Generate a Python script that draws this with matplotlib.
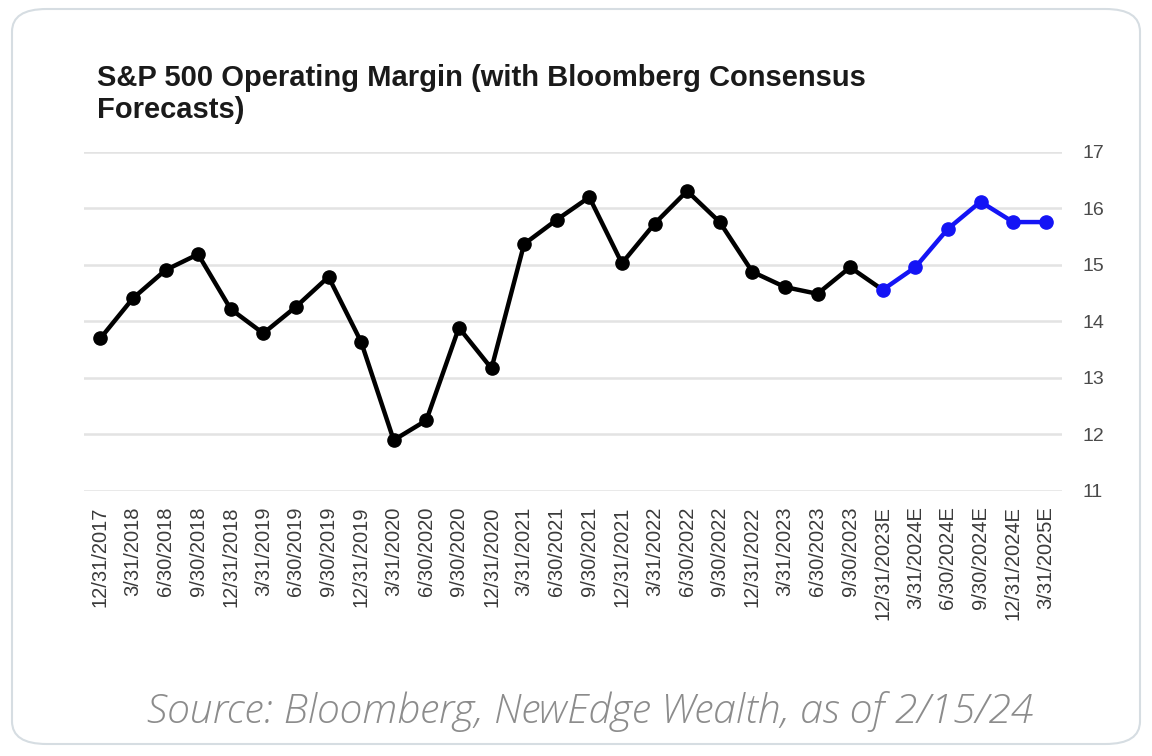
import matplotlib
matplotlib.use("Agg")
import matplotlib.pyplot as plt
from matplotlib.patches import FancyBboxPatch

dates = ["12/31/2017", "3/31/2018", "6/30/2018", "9/30/2018", "12/31/2018",
         "3/31/2019", "6/30/2019", "9/30/2019", "12/31/2019", "3/31/2020",
         "6/30/2020", "9/30/2020", "12/31/2020", "3/31/2021", "6/30/2021",
         "9/30/2021", "12/31/2021", "3/31/2022", "6/30/2022", "9/30/2022",
         "12/31/2022", "3/31/2023", "6/30/2023", "9/30/2023", "12/31/2023E",
         "3/31/2024E", "6/30/2024E", "9/30/2024E", "12/31/2024E", "3/31/2025E"]
margin = [13.70, 14.41, 14.91, 15.19, 14.22, 13.79, 14.26, 14.79, 13.64, 11.90,
          12.25, 13.89, 13.17, 15.37, 15.80, 16.20, 15.03, 15.73, 16.31, 15.76,
          14.88, 14.61, 14.49, 14.96, 14.56, 14.96, 15.64, 16.12, 15.76, 15.76]
n_actual = 24  # points before the forecast (E) values
yticks = [11, 12, 13, 14, 15, 16, 17]

fig = plt.figure(figsize=(11.52, 7.56), dpi=100)
fig.patch.set_facecolor("white")

card = FancyBboxPatch((12 / 1152, 12 / 756), 1128 / 1152, 735 / 756,
                      boxstyle="round,pad=0,rounding_size=0.03",
                      transform=fig.transFigure, facecolor="white",
                      edgecolor="#d6dde2", linewidth=1.5, zorder=-10)
fig.patches.append(card)

ax = fig.add_axes([84 / 1152, 1 - 491 / 756, (1062 - 84) / 1152, (491 - 152) / 756])
ax.set_zorder(5)
ax.set_facecolor("none")
x = list(range(len(dates)))

ax.plot(x[:n_actual + 1], margin[:n_actual + 1], color="black", lw=3.2,
        marker="o", markersize=9.5, markevery=list(range(n_actual)),
        solid_joinstyle="miter", zorder=3)
ax.plot(x[n_actual:], margin[n_actual:], color="#1414f5", lw=3.2,
        marker="o", markersize=9.5, zorder=4)

ax.set_xlim(-0.5, len(dates) - 0.5)
ax.set_ylim(11, 17)
ax.set_yticks(yticks)
ax.yaxis.tick_right()
ax.tick_params(axis="y", length=0, pad=15, labelsize=14, labelcolor="#4a4a4a")
ax.set_xticks(x)
ax.set_xticklabels(dates, rotation=90, fontsize=14.5, color="#3a3a3a",
                   family="Liberation Sans")
ax.tick_params(axis="x", length=0, pad=11)
for lab in ax.get_yticklabels():
    lab.set_family("Liberation Sans")
ax.grid(axis="y", color="#e3e3e3", lw=1.8)
ax.set_axisbelow(True)
for s in ax.spines.values():
    s.set_visible(False)

fig.text(97 / 1152, 1 - 78 / 756, "S&P 500 Operating Margin (with Bloomberg Consensus",
         fontsize=21, fontweight="bold", family="Liberation Sans",
         color="#1a1a1a", va="center", ha="left")
fig.text(97 / 1152, 1 - 110 / 756, "Forecasts)",
         fontsize=21, fontweight="bold", family="Liberation Sans",
         color="#1a1a1a", va="center", ha="left")

fig.text(590 / 1152, 1 - 712 / 756, "Source: Bloomberg, NewEdge Wealth, as of 2/15/24",
         fontsize=29.5, fontstyle="italic", fontweight="light", family="Open Sans",
         color="#8c8c8c", va="center", ha="center")

fig.savefig("out.png", dpi=100, facecolor="white")
